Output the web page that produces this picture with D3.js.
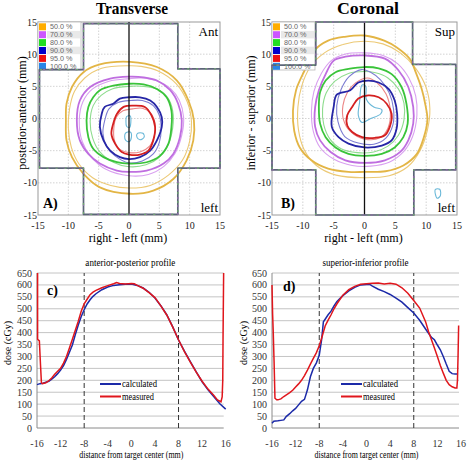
<!DOCTYPE html>
<html><head><meta charset="utf-8">
<script src="https://cdn.jsdelivr.net/npm/d3@7"></script>
<style>body{margin:0;background:#fff}svg{display:block}</style>
</head><body>
<svg id="c" width="471" height="460"></svg>
<script>
// ---------- data ----------
const levels = ["50.0 %","70.0 %","80.0 %","90.0 %","95.0 %","100.0 %"];
const mapTicks = [-15,-10,-5,0,5,10,15];
const profTicksX = [-16,-12,-8,-4,0,4,8,12,16];
const profTicksY = [0,50,100,150,200,250,300,350,400,450,500,550,600,650];

// phantom outlines (mm)
const trOutline = [[-7.5,14.75],[8.05,14.75],[8.05,7.7],[15,7.7],[15,-7.7],[8.05,-7.7],[8.05,-14.9],[-7.5,-14.9],[-7.5,-7.7],[-14.75,-7.7],[-14.75,7.6],[-7.5,7.6]];
const coOutline = [[-7.9,15],[7.8,15],[7.8,8.4],[14.8,8.4],[14.8,-8.0],[8.0,-8.0],[8.0,-15],[-7.9,-15],[-7.9,-8.0],[-15,-8.0],[-15,8.3],[-7.9,8.3]];

// transverse isodose contours (mm) - calculated (thick) and measured (thin)
const tr50c = [[0.2,8.8],[-4.8,8.4],[-7.5,7.2],[-9.4,4.9],[-10.3,2.3],[-10.4,-0.3],[-10.3,-3.4],[-9.4,-6.0],[-7.5,-8.6],[-4.8,-10.7],[0.2,-11.7],[4.0,-11.2],[7.3,-9.4],[9.5,-6.5],[10.6,-3.4],[10.7,-0.3],[9.8,2.8],[7.9,5.9],[4.6,8.0]];
const tr50m = [[0,8.2],[-4.5,7.8],[-7.3,6.3],[-9.0,4.2],[-9.8,1.5],[-10.0,-1.5],[-9.5,-4.5],[-8.3,-7.0],[-6.0,-9.2],[-3.0,-10.4],[0,-10.8],[3.5,-10.4],[6.5,-8.8],[8.8,-6.5],[10.0,-3.5],[10.3,-0.5],[9.6,2.6],[7.8,5.4],[4.8,7.4],[2.0,8.1]];
const tr70c = [[0,6.5],[-3.1,6.2],[-6.4,4.9],[-8.1,2.8],[-8.6,-0.3],[-8.1,-3.4],[-6.7,-5.5],[-4.8,-7.0],[-2.0,-8.1],[0,-8.3],[2.9,-8.1],[5.7,-7.0],[7.3,-5.5],[8.4,-2.9],[8.7,-0.3],[8.1,2.3],[6.8,4.4],[4.6,5.9],[2.4,6.4]];
const tr70m = [[0,6.2],[-3.3,5.8],[-6.0,4.6],[-7.6,2.6],[-8.2,-0.3],[-7.7,-3.6],[-6.2,-6.0],[-3.8,-7.9],[0,-8.9],[3.2,-8.7],[5.8,-7.4],[7.6,-5.4],[8.7,-2.6],[9.0,0.2],[8.3,2.8],[6.9,4.6],[4.4,5.9],[2.0,6.3]];
const tr80c = [[0,5.4],[-2.6,5.1],[-4.8,4.4],[-5.9,3.3],[-6.7,1.8],[-7.0,-0.3],[-6.7,-2.9],[-5.9,-4.7],[-4.2,-6.0],[-2.0,-6.8],[0,-7.0],[2.9,-6.8],[5.1,-5.8],[6.5,-3.9],[7.0,-1.3],[7.0,1.2],[6.2,3.3],[4.6,4.6],[2.4,5.3]];
const tr80m = [[0,5.0],[-2.8,4.6],[-4.6,3.6],[-5.9,2.0],[-6.4,-0.5],[-6.0,-3.0],[-4.8,-5.2],[-2.6,-6.8],[0,-7.5],[2.8,-7.2],[4.9,-6.1],[6.4,-4.2],[7.2,-1.5],[7.2,1.2],[6.4,3.2],[4.8,4.5],[2.4,5.0]];
const tr90c = [[0,3.3],[-1.5,3.1],[-2.6,2.3],[-4.0,1.8],[-4.5,0.7],[-4.8,-1.3],[-4.2,-3.4],[-3.1,-5.0],[-1.5,-6.0],[0,-6.3],[1.8,-6.0],[3.5,-5.0],[4.6,-3.4],[5.4,-1.3],[5.4,0.2],[4.6,1.8],[3.5,2.8],[1.8,3.3]];
const tr90m = [[0.3,2.8],[-1.8,2.5],[-3.3,1.5],[-4.0,-0.3],[-4.3,-2.3],[-3.7,-4.3],[-2.3,-5.8],[0,-6.9],[2.2,-6.6],[4.0,-5.5],[5.0,-3.7],[5.3,-1.5],[5.0,0.5],[4.0,2.0],[2.2,2.8]];
const tr95c = [[0.7,2.0],[-0.9,1.8],[-2.0,0.7],[-2.6,-0.8],[-2.9,-2.4],[-2.3,-3.9],[-1.2,-5.2],[0,-5.6],[1.8,-5.6],[3.2,-5.0],[4.0,-3.4],[4.3,-1.3],[3.7,0.5],[2.6,1.8]];
const tr95m = [[0.6,1.5],[-1.0,1.2],[-2.1,0.2],[-2.5,-1.5],[-2.4,-3.4],[-1.5,-4.8],[0,-5.3],[1.8,-5.2],[3.4,-4.3],[4.2,-2.6],[4.3,-0.8],[3.6,0.8],[2.2,1.6]];
const tr100a = [[-0.4,0.3],[0.2,0.4],[0.3,-0.6],[0.1,-1.4],[-0.4,-1.2],[-0.5,-0.4]];
const tr100b = [[-0.6,-2.3],[0.2,-2.1],[0.4,-2.9],[0,-3.6],[-0.6,-3.3]];
const tr100c = [[1.4,-2.3],[2.3,-2.3],[2.5,-2.9],[1.8,-3.3],[1.3,-2.9]];

// coronal isodose contours (mm)
const co50c = [[0,12.9],[-3.2,12.7],[-5.9,12.1],[-8.1,10.6],[-9.7,7.5],[-11.1,4.4],[-11.6,1.2],[-11.4,-1.9],[-10.5,-4.5],[-8.6,-6.5],[-5.9,-7.8],[-2.6,-8.3],[0,-8.3],[3.4,-8.2],[6.3,-7.3],[8.5,-5.5],[9.6,-3.0],[10.2,-0.2],[9.9,2.0],[9.3,4.5],[8.3,7.2],[7.4,9.2],[5.3,11.0],[3.2,12.1]];
const co50m = [[0,12.0],[-3.5,11.5],[-6.5,10.2],[-8.8,8.0],[-10.2,5.0],[-10.8,1.8],[-10.7,-1.8],[-9.8,-4.8],[-7.8,-7.3],[-4.6,-8.8],[0,-9.2],[4.0,-8.9],[7.0,-7.5],[9.0,-5.0],[10.2,-1.8],[10.6,1.5],[10.0,4.8],[8.3,7.8],[5.8,10.2],[3.0,11.6]];
const co70c = [[0,9.8],[-3.1,9.6],[-5.0,9.0],[-6.3,6.9],[-7.4,4.4],[-8.0,1.8],[-8.0,-1.3],[-7.2,-3.4],[-5.5,-5.2],[-3.1,-6.5],[0,-6.9],[3.3,-6.5],[5.8,-5.2],[7.1,-3.4],[7.9,-0.8],[7.9,1.8],[7.1,4.9],[5.5,7.5],[3.3,9.3]];
const co70m = [[0,10.2],[-3.2,10.0],[-5.4,9.0],[-7.0,7.0],[-8.2,4.2],[-8.6,1.2],[-8.3,-2.0],[-7.2,-4.5],[-5.0,-6.3],[-2.0,-7.3],[1.0,-7.4],[4.0,-6.8],[6.3,-5.2],[7.8,-2.8],[8.5,0.5],[8.3,3.5],[7.2,6.3],[5.4,8.5],[3.0,9.8]];
const co80c = [[0,8.0],[-2.6,7.7],[-4.7,7.2],[-6.3,5.9],[-7.2,4.1],[-7.4,1.8],[-7.2,-0.8],[-6.3,-2.9],[-4.7,-4.5],[-2.6,-5.5],[0,-5.8],[2.8,-5.5],[4.9,-4.5],[6.3,-2.9],[7.0,-0.8],[6.8,2.3],[6.0,4.9],[4.4,6.9],[2.3,7.8]];
const co80m = [[0,7.3],[-2.6,7.0],[-4.8,5.8],[-6.2,4.0],[-6.8,1.5],[-6.6,-1.0],[-5.6,-3.2],[-3.8,-4.7],[-1.2,-5.3],[1.5,-5.2],[3.8,-4.3],[5.5,-2.6],[6.4,-0.2],[6.4,2.4],[5.5,4.6],[3.8,6.3],[1.8,7.1]];
const co90c = [[0.6,5.9],[-1.0,5.6],[-2.3,4.4],[-4.5,3.7],[-5.0,1.8],[-5.3,-1.3],[-4.2,-2.9],[-2.6,-3.9],[0,-4.5],[2.8,-4.2],[4.4,-3.4],[5.2,-1.6],[5.3,0.7],[4.9,2.8],[3.9,4.6],[2.3,5.6]];
const co90m = [[-0.5,7.6],[-2.5,6.5],[-3.8,4.5],[-4.5,2.0],[-4.3,-0.5],[-3.2,-2.8],[-1.0,-3.8],[1.5,-4.0],[3.5,-3.0],[4.6,-1.0],[4.7,1.5],[4.0,4.0],[2.6,6.0],[1.0,7.2]];
const co95c = [[0.6,3.6],[-1.0,3.1],[-2.0,1.8],[-2.8,0.5],[-2.8,-1.1],[-2.0,-2.1],[-0.4,-2.9],[1.7,-3.0],[3.3,-2.6],[4.1,-1.3],[4.4,0.7],[3.6,2.3],[2.3,3.3]];
const co95m = [[0.5,6.3],[-1.5,5.5],[-2.8,4.0],[-3.5,2.0],[-3.4,-0.2],[-2.3,-2.0],[0,-3.2],[2.5,-3.0],[3.8,-1.5],[4.2,1.0],[3.5,3.8],[2.0,5.6]];
const co100a = [[-0.4,5.2],[0.2,5.0],[0.3,3.0],[1.5,1.8],[2.8,1.4],[2.6,0.7],[1.0,0.0],[-0.4,-0.6],[-1.0,0.5],[-0.8,2.5]];
const co100b = [[11.5,-11.0],[12.2,-11.0],[12.3,-12.0],[11.8,-12.4],[11.5,-11.8]];

// dose profiles (mm, cGy)
const apCalc = [[-16,182],[-15.5,186],[-15,188],[-14.5,192],[-14,196],[-13.5,205],[-13,215],[-12.5,228],[-12,243],[-11.5,262],[-11,288],[-10.5,318],[-10,348],[-9.5,392],[-9,432],[-8.5,468],[-8,496],[-7.5,520],[-7,538],[-6.5,552],[-6,563],[-5,580],[-4,591],[-3,598],[-2,601],[-1,603],[0,604],[1,598],[2,587],[3,569],[4,545],[5,513],[6,475],[7,425],[8,369],[9,322],[10,278],[11,235],[12,194],[13,160],[14,131],[15,102],[16,79]];
const apMeas = [[-15.9,650],[-15.9,372],[-15.6,365],[-15.55,340],[-15.4,262],[-15.25,190],[-15.1,186],[-14.8,188],[-14.5,190],[-14,198],[-13.5,210],[-13,225],[-12.5,238],[-12,250],[-11.5,272],[-11,300],[-10.5,335],[-10,372],[-9.5,410],[-9,448],[-8.5,490],[-8,521],[-7.5,540],[-7,559],[-6.5,570],[-6,577],[-5,588],[-4,597],[-3,605],[-2.5,610],[-2,606],[-1,604],[0,606],[0.5,605],[1,598],[2,586],[3,568],[4,547],[5,512],[6,474],[7,424],[8,370],[9,320],[10,276],[11,234],[12,196],[13,163],[14,136],[14.6,118],[15.2,110],[15.4,130],[15.5,200],[15.55,380],[15.65,650]];
const siCalc = [[-16,20],[-15.7,28],[-15,30],[-14.5,32],[-14,34],[-13.6,48],[-13,60],[-12.5,72],[-12,82],[-11.5,97],[-11,112],[-10.5,120],[-10,160],[-9.5,215],[-9,250],[-8.5,272],[-8,305],[-7.6,370],[-7.3,445],[-7,456],[-6.5,475],[-6,490],[-5.5,512],[-5,531],[-4,555],[-3,575],[-2,590],[-1,600],[0,602],[0.5,603],[1,595],[2,582],[3,572],[4,560],[5,545],[6,528],[7,505],[8,482],[9,452],[10,415],[11,380],[11.5,370],[12,348],[12.5,328],[13,300],[13.5,268],[14,238],[14.5,228],[15,226],[15.5,226]];
const siMeas = [[-16,600],[-15.9,480],[-15.8,411],[-15.65,280],[-15.5,125],[-15.2,118],[-15,118],[-14.5,122],[-14,132],[-13.5,140],[-13,148],[-12.5,158],[-12,172],[-11.5,185],[-11,200],[-10.5,220],[-10,243],[-9.5,268],[-9,292],[-8.5,315],[-8,345],[-7.5,385],[-7,428],[-6.5,452],[-6,475],[-5.5,500],[-5,521],[-4,557],[-3,580],[-2,594],[-1,603],[0,605],[1,607],[2,608],[3,604],[4,607],[5,603],[6,588],[7,565],[8,535],[9,503],[10,446],[10.5,405],[11,370],[11.5,335],[12,300],[12.5,262],[13,230],[13.5,200],[14,182],[14.5,173],[15,168],[15.3,168],[15.4,200],[15.5,300],[15.6,430]];

// ---------- styles ----------
const SERIF = "'Liberation Serif','Times New Roman',serif";
const SANS = "'Liberation Sans',Arial,sans-serif";
const thickColors = ["#e3b545","#bf6ee0","#3ac43a","#2626a6","#d42020","#5aa8d0"];
const thinColors  = ["#ecc975","#d9a0f0","#8fdc8f","#7c7cd2","#ec8686","#6ab8d8"];
const legendColors = ["#ffad00","#cc55ff","#22dd22","#0000cc","#ee1111","#2a86e6"];

const svg = d3.select("#c");

function txt(g, x, y, s, o) {
  o = o || {};
  const t = g.append("text").attr("x", x).attr("y", y).text(s)
    .attr("font-family", o.family || SERIF).attr("font-size", o.size || 10)
    .attr("fill", o.fill || "#000").attr("text-anchor", o.anchor || "start");
  if (o.weight) t.attr("font-weight", o.weight);
  if (o.rotate) t.attr("transform", `rotate(-90,${x},${y})`);
  if (o.len) t.attr("textLength", o.len).attr("lengthAdjust", "spacingAndGlyphs");
  return t;
}

function drawMap(o) {
  const x = d3.scaleLinear([-15,15],[o.x0,o.x1]);
  const y = d3.scaleLinear([-15,15],[215,22]);
  const g = svg.append("g");
  // grid
  mapTicks.forEach(v => {
    if (v !== 0 && Math.abs(v) !== 15) {
      g.append("line").attr("x1", x(v)).attr("x2", x(v)).attr("y1", y(-15)).attr("y2", y(15))
        .attr("stroke", "#c8c8c8").attr("stroke-width", 0.8).attr("stroke-dasharray", "1.5,1.5");
    }
    if (Math.abs(v) !== 15) {
      g.append("line").attr("x1", x(-15)).attr("x2", x(15)).attr("y1", y(v)).attr("y2", y(v))
        .attr("stroke", "#c8c8c8").attr("stroke-width", 0.8).attr("stroke-dasharray", "1.5,1.5");
    }
  });
  g.append("rect").attr("x", x(-15)).attr("y", y(15)).attr("width", x(15) - x(-15)).attr("height", y(-15) - y(15))
    .attr("fill", "none").attr("stroke", "#9a9a9a").attr("stroke-width", 1);
  const line = d3.line().x(d => x(d[0])).y(d => y(d[1])).curve(d3.curveCatmullRomClosed.alpha(0.5));
  // measured (thin) first then calculated (thick)
  o.thin.forEach(c => g.append("path").attr("d", line(c.pts)).attr("fill", "none")
    .attr("stroke", thinColors[c.lvl]).attr("stroke-width", 1.1));
  o.thick.forEach(c => g.append("path").attr("d", line(c.pts)).attr("fill", "none")
    .attr("stroke", thickColors[c.lvl]).attr("stroke-width", 1.8));
  // zero line
  g.append("line").attr("x1", x(0)).attr("x2", x(0)).attr("y1", y(-15)).attr("y2", y(15))
    .attr("stroke", "#111").attr("stroke-width", 1.3);
  // legend
  const lg = g.append("g");
  lg.append("rect").attr("x", x(-15)).attr("y", y(15)).attr("width", 43).attr("height", 48)
    .attr("fill", "#fff").attr("stroke", "#b8b8b8").attr("stroke-width", 0.8);
  levels.forEach((lv, i) => {
    const top = y(15) + 1 + i * 7.9;
    if (i === 1 || i === 3) lg.append("rect").attr("x", x(-15) + 9).attr("y", top).attr("width", 33).attr("height", 7.5).attr("fill", "#e9e9e9");
    lg.append("rect").attr("x", x(-15) + 1).attr("y", top + 0.3).attr("width", 7).attr("height", 7).attr("fill", legendColors[i]);
    txt(lg, x(-15) + 12, top + 6.3, lv, {family: SANS, size: 7.2, fill: "#666"});
  });
  // phantom outline
  const oline = d3.line().x(d => x(d[0])).y(d => y(d[1])).curve(d3.curveLinearClosed);
  g.append("path").attr("d", oline(o.outline)).attr("fill", "none").attr("stroke", "#5c6678")
    .attr("stroke-width", 1.7).attr("stroke-linejoin", "round");
  g.append("path").attr("d", oline(o.outline)).attr("fill", "none").attr("stroke", "#8f6aa6")
    .attr("stroke-width", 1.2).attr("stroke-dasharray", "2,6");
  g.append("path").attr("d", oline(o.outline)).attr("fill", "none").attr("stroke", "#6da86d")
    .attr("stroke-width", 1.2).attr("stroke-dasharray", "2,7").attr("stroke-dashoffset", 4);
  // tick labels
  mapTicks.forEach(v => {
    txt(g, x(-15) - 1, y(v) + 3.5, String(v), {size: 10, anchor: "end", fill: "#222"});
    txt(g, x(v), 228.5, String(v), {size: 10, anchor: "middle", fill: "#222"});
  });
  // titles & labels
  txt(g, o.titleX, 14, o.title, {size: 16, weight: "bold", anchor: "middle", len: o.titleLen});
  txt(g, o.ylabX, 113, o.ylab, {size: 12, anchor: "middle", rotate: true});
  txt(g, (o.x0 + o.x1) / 2 - 1, 242, "right - left (mm)", {size: 12, anchor: "middle"});
  txt(g, x(15) - 2, 36, o.corner, {size: 13, anchor: "end"});
  txt(g, x(15) - 2, 212, "left", {size: 13, anchor: "end"});
  txt(g, o.panelX, 208, o.panel, {size: 14, weight: "bold"});
}

function drawProfile(o) {
  const x = d3.scaleLinear([-16,16],[o.x0,o.x1]);
  const y = d3.scaleLinear([0,650],[428,273]);
  const g = svg.append("g");
  profTicksY.forEach(v => {
    if (v > 0) g.append("line").attr("x1", x(-16)).attr("x2", x(16) - 2).attr("y1", y(v)).attr("y2", y(v))
      .attr("stroke", "#c4c4c4").attr("stroke-width", 1);
    txt(g, x(-16) - 5, y(v) + 3.5, String(v), {size: 10, anchor: "end", fill: "#333"});
  });
  g.append("line").attr("x1", x(-16)).attr("x2", x(-16)).attr("y1", y(0)).attr("y2", y(650)).attr("stroke", "#8a8a8a");
  g.append("line").attr("x1", x(-16)).attr("x2", x(16) - 2).attr("y1", y(0)).attr("y2", y(0)).attr("stroke", "#8a8a8a");
  profTicksX.forEach(v => txt(g, x(v), 447, String(v), {size: 10, anchor: "middle", fill: "#333"}));
  [-8, 8].forEach(v => g.append("line").attr("x1", x(v)).attr("x2", x(v)).attr("y1", y(0)).attr("y2", y(650))
    .attr("stroke", "#333").attr("stroke-width", 1).attr("stroke-dasharray", "5,3"));
  const line = d3.line().x(d => x(d[0])).y(d => y(d[1]));
  g.append("path").attr("d", line(o.calc)).attr("fill", "none").attr("stroke", "#1c2aa8").attr("stroke-width", 1.5);
  g.append("path").attr("d", line(o.meas)).attr("fill", "none").attr("stroke", "#e0161c").attr("stroke-width", 1.5);
  // legend
  g.append("line").attr("x1", o.legX).attr("x2", o.legX + 21).attr("y1", 384).attr("y2", 384).attr("stroke", "#1c2aa8").attr("stroke-width", 2);
  g.append("line").attr("x1", o.legX).attr("x2", o.legX + 21).attr("y1", 396.5).attr("y2", 396.5).attr("stroke", "#e0161c").attr("stroke-width", 2);
  txt(g, o.legX + 22, 387, "calculated", {size: 9.5, len: 35});
  txt(g, o.legX + 22, 399.5, "measured", {size: 9.5, len: 32});
  txt(g, (o.x0 + o.x1) / 2 - 1, 266, o.title, {size: 10, anchor: "middle", len: o.titleLen});
  txt(g, (o.x0 + o.x1) / 2, 458, "distance from target center (mm)", {size: 10, anchor: "middle", len: 104});
  txt(g, o.ylabX, 343, "dose (cGy)", {size: 10, anchor: "middle", rotate: true});
  txt(g, o.letX, o.letY, o.letter, {size: 14, weight: "bold"});
}

drawMap({
  x0: 38, x1: 220, title: "Transverse", titleX: 132, titleLen: 72,
  ylab: "posterior-anterior (mm)", ylabX: 26, corner: "Ant", panel: "A)", panelX: 43,
  outline: trOutline,
  thin: [{pts: tr50m, lvl: 0}, {pts: tr70m, lvl: 1}, {pts: tr80m, lvl: 2}, {pts: tr90m, lvl: 3}, {pts: tr95m, lvl: 4},
         {pts: tr100a, lvl: 5}, {pts: tr100b, lvl: 5}, {pts: tr100c, lvl: 5}],
  thick: [{pts: tr50c, lvl: 0}, {pts: tr70c, lvl: 1}, {pts: tr80c, lvl: 2}, {pts: tr90c, lvl: 3}, {pts: tr95c, lvl: 4}]
});
drawMap({
  x0: 272, x1: 457, title: "Coronal", titleX: 368, titleLen: 62,
  ylab: "inferior - superior (mm)", ylabX: 255, corner: "Sup", panel: "B)", panelX: 281,
  outline: coOutline,
  thin: [{pts: co50m, lvl: 0}, {pts: co70m, lvl: 1}, {pts: co80m, lvl: 2}, {pts: co90m, lvl: 3}, {pts: co95m, lvl: 4},
         {pts: co100a, lvl: 5}, {pts: co100b, lvl: 5}],
  thick: [{pts: co50c, lvl: 0}, {pts: co70c, lvl: 1}, {pts: co80c, lvl: 2}, {pts: co90c, lvl: 3}, {pts: co95c, lvl: 4}]
});
drawProfile({x0: 37, x1: 225.7, calc: apCalc, meas: apMeas, title: "anterior-posterior profile", titleLen: 90,
  legX: 100, ylabX: 11, letter: "c)", letX: 47, letY: 295});
drawProfile({x0: 272, x1: 461, calc: siCalc, meas: siMeas, title: "superior-inferior profile", titleLen: 86,
  legX: 341, ylabX: 247, letter: "d)", letX: 283, letY: 291});
</script>
</body></html>
